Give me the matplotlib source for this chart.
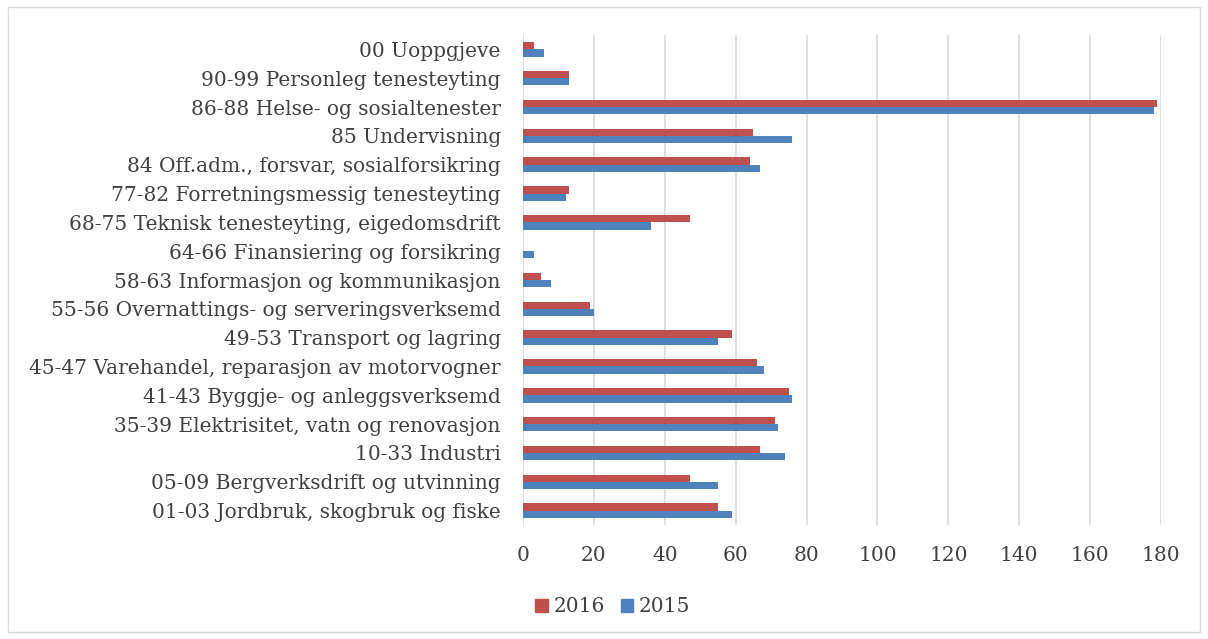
import numpy as np
import matplotlib.pyplot as plt
from matplotlib.patches import Rectangle, Patch

# categories from bottom to top
categories = [
    "01-03 Jordbruk, skogbruk og fiske",
    "05-09 Bergverksdrift og utvinning",
    "10-33 Industri",
    "35-39 Elektrisitet, vatn og renovasjon",
    "41-43 Byggje- og anleggsverksemd",
    "45-47 Varehandel, reparasjon av motorvogner",
    "49-53 Transport og lagring",
    "55-56 Overnattings- og serveringsverksemd",
    "58-63 Informasjon og kommunikasjon",
    "64-66 Finansiering og forsikring",
    "68-75 Teknisk tenesteyting, eigedomsdrift",
    "77-82 Forretningsmessig tenesteyting",
    "84 Off.adm., forsvar, sosialforsikring",
    "85 Undervisning",
    "86-88 Helse- og sosialtenester",
    "90-99 Personleg tenesteyting",
    "00 Uoppgjeve",
]
vals_2016 = [55, 47, 67, 71, 75, 66, 59, 19, 5, 0, 47, 13, 64, 65, 179, 13, 3]
vals_2015 = [59, 55, 74, 72, 76, 68, 55, 20, 8, 3, 36, 12, 67, 76, 178, 13, 6]
xticks = [0, 20, 40, 60, 80, 100, 120, 140, 160, 180]

red = "#C0504D"
blue = "#4F81BD"
textcol = "#404040"
plt.rcParams['font.family'] = ['DejaVu Serif']

W, H = 1208, 639
fig = plt.figure(figsize=(W / 100, H / 100), dpi=100)
# chart border
fig.patches.append(Rectangle((8 / W, 7 / H), 1192 / W, 625 / H, transform=fig.transFigure,
                             fill=False, edgecolor="#D9D9D9", linewidth=1))

ax = fig.add_axes([523 / W, 1 - 525 / H, (1161 - 523) / W, (525 - 35) / H])
y = np.arange(len(categories))
h = 0.25
ax.barh(y + h / 2, vals_2016, height=h, color=red, label="2016")
ax.barh(y - h / 2, vals_2015, height=h, color=blue, label="2015")

ax.set_xlim(0, 180)
ax.set_ylim(-0.5, len(categories) - 0.5)
ax.set_xticks(xticks)
ax.set_yticks(y)
ax.set_yticklabels(categories)
ax.tick_params(axis='both', length=0, labelsize=14.5, colors=textcol)
ax.tick_params(axis='x', pad=15)
ax.tick_params(axis='y', pad=16)
ax.grid(axis='x', color="#D9D9D9", linewidth=1.2)
ax.set_axisbelow(True)
for s in ax.spines.values():
    s.set_visible(False)

handles = [Patch(color=red, label="2016"), Patch(color=blue, label="2015")]
fig.legend(handles=handles, loc='center', bbox_to_anchor=(613 / W, 1 - 607 / H), ncol=2,
           frameon=False, fontsize=14.5, handlelength=0.6, handleheight=0.6,
           handletextpad=0.3, columnspacing=0.8, labelcolor=textcol)

fig.savefig("out.png", dpi=100)
